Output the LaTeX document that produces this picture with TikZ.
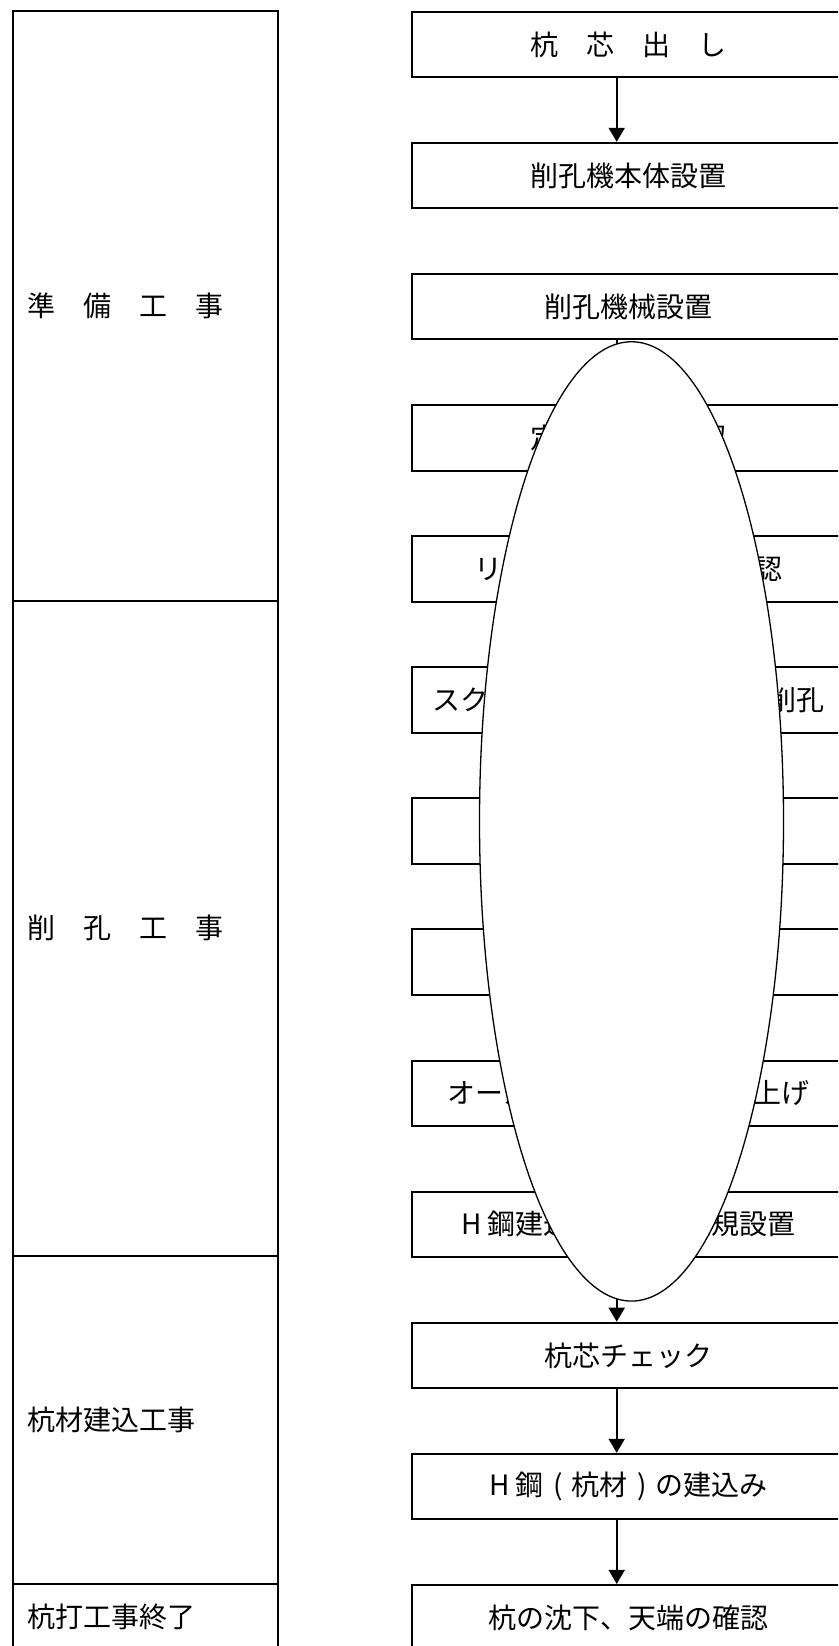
\documentclass[tikz,border=0pt]{standalone}
\usepackage{fontspec}
\setmainfont{Noto Sans CJK JP}
\usetikzlibrary{shapes.geometric,arrows.meta}
\newcommand{\zparen}[1]{\makebox[1em][c]{#1}}
\begin{document}
\begin{tikzpicture}[x=1pt,y=-1pt,
  stepbox/.style={draw, line width=2pt, rectangle, minimum width=433.6pt,
    minimum height=65.5pt, inner sep=0pt, anchor=north west,
    font=\fontsize{28}{30}\selectfont},
  phasebox/.style={draw, line width=2pt},
  phaselabel/.style={anchor=west, inner sep=0pt, font=\fontsize{28}{30}\selectfont},
  arr/.style={line width=2pt, -{Triangle[length=14pt,width=16pt]}},
  oval/.style={ellipse, draw, line width=1.3pt, fill=white, inner sep=0pt,
    minimum width=304pt, minimum height=959.3pt}]
\useasboundingbox (0,0) rectangle (838,1646);
\clip (0,0) rectangle (838,1646);
% left column
\draw[phasebox] (12.7,10.7) rectangle (277.7,600.6);
\draw[phasebox] (12.7,600.6) rectangle (277.7,1256.1);
\draw[phasebox] (12.7,1256.1) rectangle (277.7,1583.9);
\draw[phasebox] (12.7,1583.9) rectangle (277.7,1670);
\node[phaselabel] (p1) at (27.5,305.6) {準　備　工　事};
\node[phaselabel] (p2) at (27.5,928.3) {削　孔　工　事};
\node[phaselabel] (p3) at (27.5,1420.0) {杭材建込工事};
\node[phaselabel] (p4) at (27.5,1616.7) {杭打工事終了};
% step boxes
\node[stepbox] (b0) at (410.7,10.7) {杭　芯　出　し};
\node[stepbox] (b1) at (410.7,141.8) {削孔機本体設置};
\node[stepbox] (b2) at (410.7,272.9) {削孔機械設置};
\node[stepbox] (b3) at (410.7,404.0) {定規の設置確認};
\node[stepbox] (b4) at (410.7,535.1) {リーダーの垂直精度確認};
\node[stepbox] (b5) at (410.7,666.2) {スクリューオーガーによる削孔};
\node[stepbox] (b6) at (410.7,797.3) {};
\node[stepbox] (b7) at (410.7,928.4) {};
\node[stepbox] (b8) at (410.7,1059.5) {オーガー引き抜き、土砂上げ};
\node[stepbox] (b9) at (410.7,1190.6) {H 鋼建込み用位置定規設置};
\node[stepbox] (b10) at (410.7,1321.7) {杭芯チェック};
\node[stepbox] (b11) at (410.7,1452.8) {H 鋼\zparen{(}杭材\zparen{)}の建込み};
\node[stepbox] (b12) at (410.7,1583.9) {杭の沈下、天端の確認};
% arrows
\coordinate (ax) at (616.7,0);
\draw[arr] (b0.south -| ax) -- (b1.north -| ax);
\foreach \a/\b in {b2/b3,b3/b4,b4/b5,b5/b6,b6/b7,b7/b8,b8/b9,b9/b10,b10/b11,b11/b12}
  \draw[arr] (\a.south -| ax) -- (\b.north -| ax);
% covering oval
\node[oval] (ov) at (631.5,821.4) {};
\end{tikzpicture}
\end{document}
